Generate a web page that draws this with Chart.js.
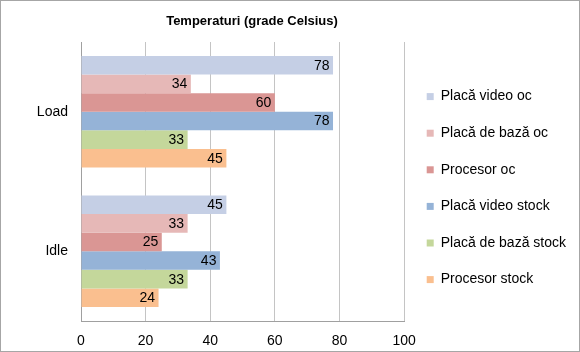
<!DOCTYPE html>
<html lang="ro">
<head>
<meta charset="utf-8">
<title>Temperaturi (grade Celsius)</title>
<script src="https://cdn.jsdelivr.net/npm/chart.js@4/dist/chart.umd.min.js"></script>
<style>
    html, body { margin: 0; padding: 0; background: #fff; }
    #wrap {
        width: 578px;
        height: 350px;
        border: 1px solid #a6a6a6;
        background: #fff;
    }
    #chart { display: block; }
</style>
</head>
<body>
<div id="wrap">
    <canvas id="chart" width="578" height="350"></canvas>
</div>
<script>
/* ── Datos ───────────────────────────────────────────── */
const TITLE = 'Temperaturi (grade Celsius)';
const CATEGORIES = ['Load', 'Idle'];
const SERIES_NAMES = [
    'Placă video oc',
    'Placă de bază oc',
    'Procesor oc',
    'Placă video stock',
    'Placă de bază stock',
    'Procesor stock'
];
const VIDEO_OC    = [78, 45];
const PLACA_OC    = [34, 33];
const PROCESOR_OC = [60, 25];
const VIDEO_ST    = [78, 43];
const PLACA_ST    = [33, 33];
const PROCESOR_ST = [45, 24];
const X_TICKS = [0, 20, 40, 60, 80, 100];

const COLORS = ['#C5CFE5', '#E6B8B7', '#DA9694', '#95B3D7', '#C4D79B', '#FABF8F'];
const FONT = 'Arial, "Liberation Sans", sans-serif';

const seriesValues = [VIDEO_OC, PLACA_OC, PROCESOR_OC, VIDEO_ST, PLACA_ST, PROCESOR_ST];

/* ── Título: Excel lo centra sobre el área sin leyenda, se dibuja a mano ── */
const titlePlugin = {
    id: 'manualTitle',
    afterDraw(chart) {
        const ctx = chart.ctx;
        ctx.save();
        ctx.font = 'bold 13px ' + FONT;
        ctx.fillStyle = '#000';
        ctx.textAlign = 'center';
        ctx.textBaseline = 'middle';
        ctx.fillText(TITLE, 251, 20.5);
        ctx.restore();
    }
};

/* ── Etiquetas de valor dentro del extremo de cada barra ── */
const valueLabels = {
    id: 'valueLabels',
    afterDatasetsDraw(chart) {
        const ctx = chart.ctx;
        ctx.save();
        ctx.font = '14px ' + FONT;
        ctx.fillStyle = '#000';
        ctx.textAlign = 'right';
        ctx.textBaseline = 'middle';
        chart.data.datasets.forEach((ds, i) => {
            const meta = chart.getDatasetMeta(i);
            meta.data.forEach((bar, j) => {
                ctx.fillText(String(ds.data[j]), bar.x - 3.5, bar.y + 0.5);
            });
        });
        ctx.restore();
    }
};

new Chart(document.getElementById('chart'), {
    type: 'bar',
    data: {
        labels: CATEGORIES,
        datasets: SERIES_NAMES.map((name, i) => ({
            label: name,
            data: seriesValues[i],
            backgroundColor: COLORS[i],
            borderWidth: 0,
            categoryPercentage: 0.8,
            barPercentage: 1.0
        }))
    },
    options: {
        indexAxis: 'y',
        responsive: false,
        animation: false,
        events: [],
        layout: { padding: { top: 41, right: 3, bottom: 0, left: 0 } },
        plugins: {
            title: { display: false },
            tooltip: { enabled: false },
            legend: {
                position: 'right',
                align: 'center',
                fullSize: false,
                maxWidth: 180,
                // título vacío: solo empuja las entradas hacia abajo como en Excel
                title: { display: true, text: '', padding: 0, font: { size: 11 } },
                labels: {
                    color: '#000',
                    font: { family: FONT, size: 14 },
                    boxWidth: 7,
                    boxHeight: 7,
                    padding: 22.6
                }
            }
        },
        scales: {
            x: {
                min: 0,
                max: 100,
                afterBuildTicks: (s) => { s.ticks = X_TICKS.map(v => ({ value: v })); },
                afterFit: (s) => { s.height = 30; },
                ticks: {
                    color: '#000',
                    font: { family: FONT, size: 14 },
                    padding: 12
                },
                grid: { color: '#c4c4c4', drawTicks: false },
                border: { color: '#a0a0a0' }
            },
            y: {
                afterFit: (s) => { s.width = 80; },
                ticks: {
                    color: '#000',
                    font: { family: FONT, size: 14 },
                    padding: 13
                },
                grid: { display: false, drawTicks: false },
                border: { color: '#a0a0a0' }
            }
        }
    },
    plugins: [titlePlugin, valueLabels]
});
</script>
</body>
</html>
